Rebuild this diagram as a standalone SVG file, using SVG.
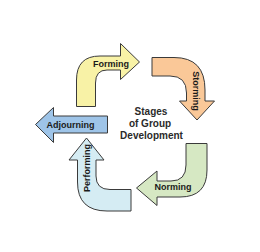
<svg xmlns="http://www.w3.org/2000/svg" width="260" height="252" viewBox="0 0 260 252">
<style>
.a{stroke:#3a3a3a;stroke-width:1;stroke-linejoin:miter}
.l{font-family:"Liberation Sans",Arial,sans-serif;font-weight:bold;font-size:9px;fill:#1a1a1a;text-anchor:middle}
.c{font-family:"Liberation Sans",Arial,sans-serif;font-weight:bold;font-size:10px;fill:#2a2a2a;text-anchor:middle}
</style>
<rect width="260" height="252" fill="#ffffff"/>
<g id="connectors"></g>
<g id="forming">
<path class="a" fill="#F8F2A6" d="M76.5,106.5 L76.5,80 Q76.5,56 100,56 L120.5,56 L120.5,43.5 L139.5,62 L120.5,79.5 L120.5,70 L107,70 Q95.5,70 95.5,83 L95.5,106.5 Z"/>
<text class="l" x="111" y="66.5">Forming</text>
</g>
<g id="storming">
<path class="a" fill="#FAC898" d="M152,57.5 L174,57.5 Q205,57.5 205,90 L205,101 L214.5,101 L197,120 L179.5,101 L186.5,101 L186.5,93 Q186.5,76 170,76 L152,76 Z"/>
<text class="l" transform="translate(196,91) rotate(90)" x="0" y="3.2">Storming</text>
</g>
<g id="norming">
<path class="a" fill="#D6E8C3" d="M186,143.5 L207,143.5 L207,170 Q207,197 180,197 L157,197 L157,205.5 L136.5,188 L157,171 L157,181 L171,181 Q186,181 186,165 Z"/>
<text class="l" x="173" y="190.3">Norming</text>
</g>
<g id="adjourning">
<path class="a" fill="#9EC4E8" d="M107.5,116 L107.5,133 L53.5,133 L53.5,142.5 L35.5,124.5 L53.5,107.5 L53.5,116 Z"/>
<text class="l" x="70.5" y="127.6">Adjourning</text>
</g>
<g id="performing">
<path class="a" fill="#D5ECF3" d="M131,189.5 L131,211 L107,211 Q77.5,211 77.5,182 L77.5,160 L69,160 L86.5,138 L104,160 L96,160 L96,176 Q96,189.5 110,189.5 Z"/>
<text class="l" transform="translate(87,168) rotate(-90)" x="0" y="3.2">Performing</text>
</g>
<g id="center">
<text class="c" x="151" y="115">Stages</text>
<text class="c" x="150" y="127">of Group</text>
<text class="c" x="151.5" y="138.5">Development</text>
</g>
</svg>
